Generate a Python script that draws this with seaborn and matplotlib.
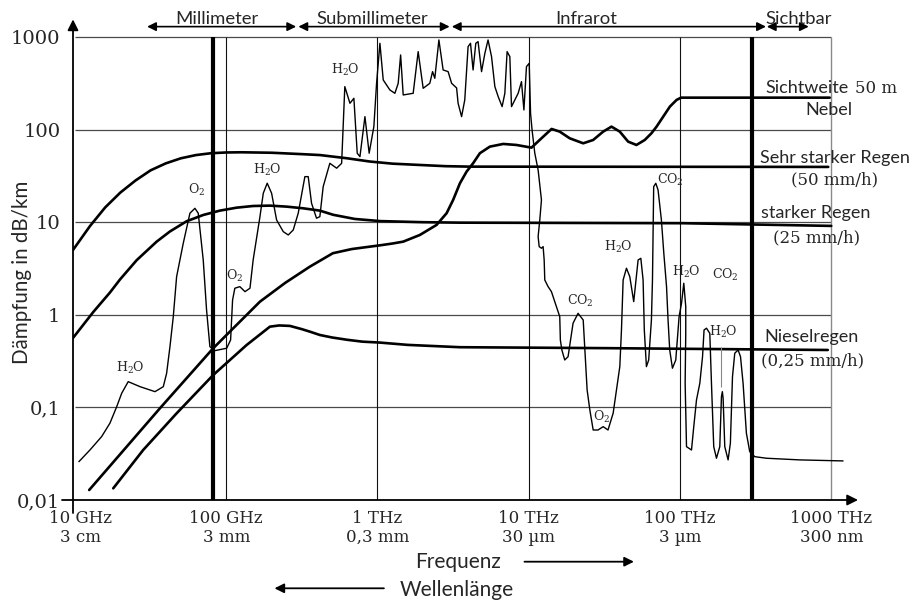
import numpy as np
import pandas as pd
import matplotlib
matplotlib.use("Agg")
import matplotlib.pyplot as plt
import seaborn as sns
from matplotlib.patches import FancyArrowPatch
from matplotlib.ticker import NullLocator
from matplotlib.transforms import ScaledTranslation

# ---------------- axis ticks ----------------
tick_freq_hz = [1e10, 1e11, 1e12, 1e13, 1e14, 1e15]
tick_labels_x = ["10 GHz\n3 cm", "100 GHz\n3 mm", "1 THz\n0,3 mm",
                 "10 THz\n30 µm", "100 THz\n3 µm", "1000 THz\n300 nm"]
tick_db = [0.01, 0.1, 1, 10, 100, 1000]
tick_labels_y = ["0,01", "0,1", "1", "10", "100", "1000"]

# ---------------- spectral bands (Hz) ----------------
band_names = ["Millimeter", "Submillimeter", "Infrarot", "Sichtbar"]
band_start_hz = [3e10, 3e11, 3.1e12, 3.75e14]
band_end_hz = [2.9e11, 3e12, 3.7e14, 7.1e14]
band_label_logf = [10.937, 11.969, 13.382, 14.785]

# window boundaries (thick lines)
window_lines_hz = [8.2e10, 3.0e14]

# ---------------- weather curves: log10(f/Hz), log10(dB/km) ----------------
rain50_logf = [9.987, 10.1, 10.2, 10.3, 10.4, 10.5, 10.6, 10.7, 10.8, 10.9, 11.0, 11.1,
               11.3, 11.5, 11.62, 11.8, 11.95, 12.1, 12.28, 12.45, 12.611, 14.98]
rain50_logdb = [0.70, 0.96, 1.16, 1.32, 1.45, 1.56, 1.635, 1.69, 1.725, 1.745, 1.753, 1.755,
                1.75, 1.735, 1.725, 1.69, 1.655, 1.632, 1.618, 1.605, 1.6, 1.597]

rain25_logf = [9.987, 10.121, 10.231, 10.297, 10.408, 10.54, 10.628, 10.738, 10.848,
               10.958, 11.069, 11.178, 11.289, 11.4, 11.509, 11.619, 11.707, 11.85,
               12.016, 12.3, 12.545, 14.02, 15.0]
rain25_logdb = [-0.25, 0.03, 0.24, 0.38, 0.59, 0.79, 0.90, 1.01, 1.078,
                1.125, 1.157, 1.175, 1.179, 1.168, 1.15, 1.125, 1.08, 1.035,
                1.012, 1.0, 0.995, 0.989, 0.96]

drizzle_logf = [10.253, 10.451, 10.672, 10.914, 11.135, 11.289, 11.35, 11.421, 11.5,
                11.553, 11.619, 11.7, 11.8, 11.9, 12.016, 12.2, 12.545, 13.5, 14.977]
drizzle_logdb = [-1.874, -1.46, -1.064, -0.65, -0.326, -0.128, -0.115, -0.12, -0.155,
                 -0.182, -0.218, -0.245, -0.27, -0.29, -0.30, -0.325, -0.35, -0.36, -0.38]

fog_logf = [10.094, 10.562, 10.914, 11.223, 11.39, 11.553, 11.705, 11.83, 11.95, 12.016,
            12.1, 12.17, 12.28, 12.39, 12.457, 12.5, 12.545, 12.589, 12.632, 12.677,
            12.743, 12.831, 12.919, 13.018, 13.084, 13.151, 13.205, 13.271, 13.36, 13.426,
            13.492, 13.547, 13.602, 13.657, 13.712, 13.767, 13.811, 13.845, 13.889, 13.933,
            13.977, 14.007, 14.99]
fog_logdb = [-1.892, -1.009, -0.361, 0.142, 0.345, 0.52, 0.665, 0.71, 0.736, 0.75,
             0.77, 0.79, 0.862, 0.970, 1.097, 1.24, 1.42, 1.546, 1.636, 1.745,
             1.816, 1.845, 1.834, 1.805, 1.906, 2.007, 1.978, 1.906, 1.852, 1.888,
             1.978, 2.032, 1.978, 1.87, 1.834, 1.888, 1.96, 2.032, 2.14, 2.248,
             2.32, 2.345, 2.345]

# ---------------- gaseous absorption (H2O, O2, CO2) ----------------
gas_logf = [10.026, 10.099, 10.176, 10.231, 10.276, 10.309, 10.352, 10.430, 10.529, 10.584,
            10.606, 10.628, 10.650, 10.672, 10.716, 10.760, 10.793, 10.815, 10.848, 10.870,
            10.892, 10.925, 11.003, 11.029, 11.042, 11.057, 11.090, 11.124, 11.157, 11.178,
            11.223, 11.245, 11.271, 11.300, 11.333, 11.377, 11.410, 11.443, 11.476, 11.520,
            11.542, 11.564, 11.597, 11.619, 11.641, 11.685, 11.730, 11.763, 11.784, 11.818,
            11.844, 11.866, 11.884, 11.917, 11.945, 11.976, 11.994, 12.016, 12.038, 12.082,
            12.115, 12.137, 12.153, 12.170, 12.236, 12.269, 12.302, 12.346, 12.364, 12.379,
            12.406, 12.434, 12.467, 12.490, 12.523, 12.533, 12.556, 12.577, 12.599, 12.615,
            12.632, 12.650, 12.665, 12.688, 12.710, 12.731, 12.754, 12.776, 12.798, 12.824,
            12.842, 12.857, 12.875, 12.886, 12.908, 12.930, 12.952, 12.968, 12.985, 13.003,
            13.012, 13.022, 13.040, 13.062, 13.084, 13.073, 13.062, 13.069, 13.084, 13.095,
            13.102, 13.106, 13.128, 13.150, 13.183, 13.205, 13.209, 13.219, 13.238, 13.260,
            13.293, 13.326, 13.360, 13.377, 13.386, 13.404, 13.426, 13.458, 13.492, 13.524,
            13.558, 13.580, 13.602, 13.613, 13.624, 13.646, 13.668, 13.694, 13.723, 13.741,
            13.756, 13.764, 13.778, 13.793, 13.811, 13.818, 13.826, 13.840, 13.855, 13.877,
            13.893, 13.911, 13.921, 13.932, 13.950, 13.972, 13.994, 14.010, 14.025, 14.038,
            14.038, 14.034, 14.043, 14.076, 14.091, 14.109, 14.131, 14.149, 14.159, 14.175,
            14.197, 14.208, 14.223, 14.241, 14.263, 14.274, 14.280, 14.285, 14.296, 14.318,
            14.333, 14.347, 14.362, 14.384, 14.400, 14.417, 14.439, 14.461, 14.494, 14.571,
            14.792, 15.078]
gas_logdb = [-1.586, -1.46, -1.316, -1.171, -0.992, -0.847, -0.722, -0.776, -0.83, -0.776,
             -0.631, -0.344, -0.02, 0.412, 0.773, 1.097, 1.150, 1.097, 0.592, 0.052,
             -0.344, -0.387, -0.361, -0.272, 0.16, 0.287, 0.304, 0.25, 0.287, 0.592,
             1.06, 1.313, 1.421, 1.313, 1.024, 0.898, 0.862, 0.916, 1.097, 1.492,
             1.492, 1.205, 1.043, 1.06, 1.384, 1.636, 1.583, 1.636, 2.464, 2.284,
             2.338, 1.745, 1.708, 2.14, 1.745, 2.032, 2.5, 2.932, 2.536, 2.428,
             2.392, 2.5, 2.806, 2.374, 2.392, 2.842, 2.446, 2.5, 2.626, 2.554,
             2.968, 2.644, 2.626, 2.5, 2.45, 2.284, 2.14, 2.32, 2.896, 2.932,
             2.644, 2.932, 2.95, 2.626, 2.824, 2.968, 2.788, 2.464, 2.356, 2.248,
             2.392, 2.842, 2.788, 2.248, 2.32, 2.392, 2.518, 2.212, 2.68, 2.716,
             2.176, 1.996, 1.745, 1.564, 1.24, 1.024, 0.844, 0.736, 0.719, 0.736,
             0.592, 0.376, 0.304, 0.25, 0.088, -0.02, -0.272, -0.38, -0.488, -0.452,
             -0.091, 0.016, -0.056, -0.56, -0.812, -1.028, -1.244, -1.244, -1.208, -1.244,
             -1.063, -0.812, -0.56, -0.164, 0.376, 0.503, 0.412, 0.142, 0.592, 0.61,
             0.376, -0.164, -0.56, -0.488, -0.056, 0.376, 1.384, 1.42, 1.348, 1.024,
             0.664, 0.304, -0.056, -0.38, -0.577, -0.488, -0.02, 0.124, 0.341, 0.088,
             -0.196, -0.739, -1.424, -1.46, -1.208, -0.92, -0.739, -0.452, -0.164, -0.145,
             -0.2, -0.739, -1.424, -1.549, -1.424, -0.884, -0.83, -0.901, -1.424, -1.567,
             -1.387, -0.668, -0.415, -0.38, -0.452, -0.739, -1.279, -1.478, -1.532, -1.549,
             -1.567, -1.578]

# molecule labels: text, log10(f), log10(dB/km)
mol_text = ["H$_2$O", "O$_2$", "O$_2$", "H$_2$O", "H$_2$O", "CO$_2$", "O$_2$",
            "H$_2$O", "CO$_2$", "H$_2$O", "CO$_2$", "H$_2$O"]
mol_logf = [10.364, 10.804, 11.057, 11.271, 11.789, 13.340, 13.481,
            13.593, 13.937, 14.043, 14.301, 14.285]
mol_logdb = [-0.577, 1.348, 0.423, 1.564, 2.644, 0.153, -1.1,
             0.736, 1.456, 0.466, 0.430, -0.188]

# ---------------- figure ----------------
sns.set_theme(style="white")
plt.rcParams["font.family"] = ["Lato", "DejaVu Sans"]
plt.rcParams["mathtext.fontset"] = "dejavuserif"
SERIF = "DejaVu Serif"
SANS_LABEL = 13.0

W, H = 912, 601
fig = plt.figure(figsize=(W / 100, H / 100), dpi=100)
ax = fig.add_axes([73 / W, 101 / H, 787 / W, 480.6 / H])
ax.set_xscale("log")
ax.set_yscale("log")
ax.set_xlim(10 ** 9.987, 10 ** 15.19)
ax.set_ylim(0.01, 10 ** 3.19)
for s in ax.spines.values():
    s.set_visible(False)
ax.set_facecolor("white")

# grid
ax.hlines(tick_db[1:], 1e10, 1e15, color="#4a4a4a", lw=0.9, zorder=1)
ax.vlines(tick_freq_hz[1:-1], 0.01, 1000, color="#111111", lw=0.8, zorder=1)
ax.vlines(tick_freq_hz[-1], 0.01, 1000, color="#8a8a8a", lw=1.0, zorder=1)


def curve(logf, logdb, lw):
    df = pd.DataFrame({"f": 10 ** np.asarray(logf), "db": 10 ** np.asarray(logdb)})
    sns.lineplot(data=df, x="f", y="db", sort=False, estimator=None,
                 color="black", lw=lw, ax=ax, zorder=3)


curve(gas_logf, gas_logdb, 1.0)
curve(rain50_logf, rain50_logdb, 1.9)
curve(rain25_logf, rain25_logdb, 1.9)
curve(drizzle_logf, drizzle_logdb, 1.9)
curve(fog_logf, fog_logdb, 1.9)

ax.vlines(window_lines_hz, 0.01, 1000, color="black", lw=3.0, zorder=4)
# label pointer inside the near-infrared water band
ax.vlines(10 ** 14.27, 10 ** -0.776, 10 ** -0.344, color="#888888", lw=0.8, zorder=3)

ax.set_xlabel("")
ax.set_ylabel("")

# ticks
ax.set_xticks(tick_freq_hz, tick_labels_x)
ax.set_yticks(tick_db, tick_labels_y)
ax.xaxis.set_minor_locator(NullLocator())
ax.yaxis.set_minor_locator(NullLocator())
ax.tick_params(axis="x", length=0, pad=7, labelsize=12)
ax.tick_params(axis="y", length=0, pad=9, labelsize=14)
for lbl in ax.get_xticklabels() + ax.get_yticklabels():
    lbl.set_fontfamily(SERIF)
first = ax.get_xticklabels()[0]
first.set_transform(first.get_transform() + ScaledTranslation(0.06, 0, fig.dpi_scale_trans))

# axis arrows
arrow_kw = dict(arrowstyle="-|>", color="black", lw=1.3, mutation_scale=16,
                shrinkA=0, shrinkB=0)
ax.annotate("", xy=(0, 1.0), xytext=(0, -13 / 480.6), xycoords="axes fraction",
            arrowprops=arrow_kw, annotation_clip=False)
ax.annotate("", xy=(0.9975, 0), xytext=(-11 / 787, 0), xycoords="axes fraction",
            arrowprops=arrow_kw, annotation_clip=False)

# spectral band arrows
y_band = 10 ** 3.112
for name, f0, f1, lf in zip(band_names, band_start_hz, band_end_hz, band_label_logf):
    ax.annotate("", xy=(f1, y_band), xytext=(f0, y_band),
                arrowprops=dict(arrowstyle="<|-|>", color="black", lw=1.2,
                                mutation_scale=13, shrinkA=0, shrinkB=0),
                annotation_clip=False)
    ax.text(10 ** lf, 10 ** 3.135, name, ha="center", va="baseline",
            fontsize=13.3, clip_on=False)

# molecule labels
for t, lf, ld in zip(mol_text, mol_logf, mol_logdb):
    ax.text(10 ** lf, 10 ** ld, t, ha="center", va="center", fontsize=9,
            fontfamily=SERIF, zorder=5)


def ftext(x, y, s, **kw):
    return fig.text(x / W, 1 - y / H, s, **kw)


# curve labels on the right
vis = ftext(765, 93.3, "Sichtweite", ha="left", va="baseline", fontsize=SANS_LABEL)
fig.canvas.draw()
vis_right = vis.get_window_extent().x1
ftext(vis_right + 7, 93.3, "50 m", ha="left", va="baseline", fontsize=12, fontfamily=SERIF)
ftext(829, 115, "Nebel", ha="center", va="baseline", fontsize=SANS_LABEL)
ftext(835, 162.7, "Sehr starker Regen", ha="center", va="baseline", fontsize=SANS_LABEL)
ftext(835, 184.3, "(50 mm/h)", ha="center", va="baseline", fontsize=12, fontfamily=SERIF)
ftext(816, 218.3, "starker Regen", ha="center", va="baseline", fontsize=SANS_LABEL)
ftext(816.7, 242.7, "(25 mm/h)", ha="center", va="baseline", fontsize=12, fontfamily=SERIF)
ftext(811.7, 341.7, "Nieselregen", ha="center", va="baseline", fontsize=SANS_LABEL)
ftext(812.5, 365, "(0,25 mm/h)", ha="center", va="baseline", fontsize=12, fontfamily=SERIF)

# axis titles
ftext(22, 272, "Dämpfung in dB/km", rotation=90, ha="center", va="center", fontsize=14.8)
ftext(415, 568, "Frequenz", ha="left", va="baseline", fontsize=15)
ftext(400, 595.5, "Wellenlänge", ha="left", va="baseline", fontsize=15)
fig.add_artist(FancyArrowPatch(
    (521.7 / W, 1 - 561.7 / H), (636.7 / W, 1 - 561.7 / H), transform=fig.transFigure,
    arrowstyle="-|>", color="black", lw=1.3, mutation_scale=14))
fig.add_artist(FancyArrowPatch(
    (386.7 / W, 1 - 588.3 / H), (271.7 / W, 1 - 588.3 / H), transform=fig.transFigure,
    arrowstyle="-|>", color="black", lw=1.3, mutation_scale=14))

fig.savefig("out.png", dpi=100)
